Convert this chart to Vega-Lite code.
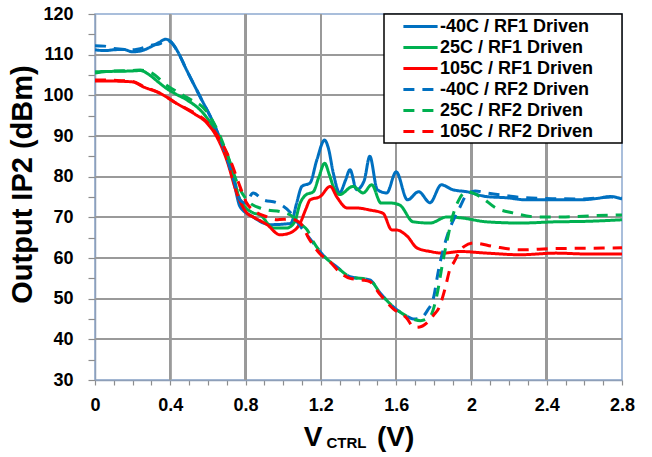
{
  "$schema": "https://vega.github.io/schema/vega-lite/v6.json",
  "width": 527,
  "height": 366,
  "autosize": {"type": "none"},
  "padding": {"left": 95, "top": 14, "right": 30, "bottom": 77},
  "background": "white",
  "config": {"view": {"stroke": "#8DA9CF", "strokeWidth": 1.5}, "font": "Liberation Sans", "legend": {"strokeWidth": 1.5}},
  "title": {"text": "CTRL", "orient": "bottom", "anchor": "middle", "dx": -12, "offset": -15, "fontSize": 15, "fontWeight": "bold", "font": "Liberation Sans", "color": "black", "baseline": "top"},
  "data": {"values": [
    {"s":"-40C / RF1 Driven","v":0,"ip2":111.2},{"s":"-40C / RF1 Driven","v":0.05,"ip2":111.0},{"s":"-40C / RF1 Driven","v":0.1,"ip2":111.2},{"s":"-40C / RF1 Driven","v":0.15,"ip2":111.3},{"s":"-40C / RF1 Driven","v":0.2,"ip2":110.7},{"s":"-40C / RF1 Driven","v":0.25,"ip2":111.0},{"s":"-40C / RF1 Driven","v":0.3,"ip2":112.0},{"s":"-40C / RF1 Driven","v":0.34,"ip2":113.0},{"s":"-40C / RF1 Driven","v":0.376,"ip2":113.8},{"s":"-40C / RF1 Driven","v":0.4,"ip2":113.3},{"s":"-40C / RF1 Driven","v":0.434,"ip2":111.2},{"s":"-40C / RF1 Driven","v":0.487,"ip2":106.2},{"s":"-40C / RF1 Driven","v":0.558,"ip2":99.7},{"s":"-40C / RF1 Driven","v":0.629,"ip2":93.2},{"s":"-40C / RF1 Driven","v":0.68,"ip2":87.3},{"s":"-40C / RF1 Driven","v":0.735,"ip2":79.2},{"s":"-40C / RF1 Driven","v":0.771,"ip2":72.6},{"s":"-40C / RF1 Driven","v":0.84,"ip2":70.1},{"s":"-40C / RF1 Driven","v":0.9,"ip2":68.5},{"s":"-40C / RF1 Driven","v":0.93,"ip2":68.2},{"s":"-40C / RF1 Driven","v":1.04,"ip2":68.5},{"s":"-40C / RF1 Driven","v":1.072,"ip2":73.6},{"s":"-40C / RF1 Driven","v":1.099,"ip2":77.6},{"s":"-40C / RF1 Driven","v":1.143,"ip2":78.5},{"s":"-40C / RF1 Driven","v":1.178,"ip2":84},{"s":"-40C / RF1 Driven","v":1.22,"ip2":89},{"s":"-40C / RF1 Driven","v":1.24,"ip2":87},{"s":"-40C / RF1 Driven","v":1.266,"ip2":80.9},{"s":"-40C / RF1 Driven","v":1.3,"ip2":76},{"s":"-40C / RF1 Driven","v":1.33,"ip2":79},{"s":"-40C / RF1 Driven","v":1.355,"ip2":81.7},{"s":"-40C / RF1 Driven","v":1.39,"ip2":76.8},{"s":"-40C / RF1 Driven","v":1.43,"ip2":79},{"s":"-40C / RF1 Driven","v":1.46,"ip2":85},{"s":"-40C / RF1 Driven","v":1.5,"ip2":76.8},{"s":"-40C / RF1 Driven","v":1.55,"ip2":76},{"s":"-40C / RF1 Driven","v":1.6,"ip2":81.2},{"s":"-40C / RF1 Driven","v":1.66,"ip2":74.3},{"s":"-40C / RF1 Driven","v":1.72,"ip2":76.3},{"s":"-40C / RF1 Driven","v":1.78,"ip2":73.6},{"s":"-40C / RF1 Driven","v":1.84,"ip2":78},{"s":"-40C / RF1 Driven","v":1.9,"ip2":76.8},{"s":"-40C / RF1 Driven","v":1.975,"ip2":76.3},{"s":"-40C / RF1 Driven","v":2.08,"ip2":75.1},{"s":"-40C / RF1 Driven","v":2.19,"ip2":74.8},{"s":"-40C / RF1 Driven","v":2.29,"ip2":74.3},{"s":"-40C / RF1 Driven","v":2.43,"ip2":74.3},{"s":"-40C / RF1 Driven","v":2.58,"ip2":74.3},{"s":"-40C / RF1 Driven","v":2.66,"ip2":74.6},{"s":"-40C / RF1 Driven","v":2.74,"ip2":75.1},{"s":"-40C / RF1 Driven","v":2.8,"ip2":74.5},
    {"s":"25C / RF1 Driven","v":0,"ip2":105.8},{"s":"25C / RF1 Driven","v":0.1,"ip2":105.9},{"s":"25C / RF1 Driven","v":0.2,"ip2":106.0},{"s":"25C / RF1 Driven","v":0.24,"ip2":106.1},{"s":"25C / RF1 Driven","v":0.29,"ip2":105.0},{"s":"25C / RF1 Driven","v":0.33,"ip2":103.5},{"s":"25C / RF1 Driven","v":0.38,"ip2":101.7},{"s":"25C / RF1 Driven","v":0.43,"ip2":100.3},{"s":"25C / RF1 Driven","v":0.487,"ip2":98.9},{"s":"25C / RF1 Driven","v":0.575,"ip2":95.6},{"s":"25C / RF1 Driven","v":0.647,"ip2":90.7},{"s":"25C / RF1 Driven","v":0.718,"ip2":83.3},{"s":"25C / RF1 Driven","v":0.771,"ip2":74.3},{"s":"25C / RF1 Driven","v":0.84,"ip2":71.1},{"s":"25C / RF1 Driven","v":0.877,"ip2":70.6},{"s":"25C / RF1 Driven","v":0.947,"ip2":67.4},{"s":"25C / RF1 Driven","v":1.02,"ip2":67.4},{"s":"25C / RF1 Driven","v":1.06,"ip2":68.8},{"s":"25C / RF1 Driven","v":1.09,"ip2":73.5},{"s":"25C / RF1 Driven","v":1.12,"ip2":75.5},{"s":"25C / RF1 Driven","v":1.16,"ip2":76.3},{"s":"25C / RF1 Driven","v":1.19,"ip2":80},{"s":"25C / RF1 Driven","v":1.22,"ip2":83.3},{"s":"25C / RF1 Driven","v":1.245,"ip2":80.5},{"s":"25C / RF1 Driven","v":1.266,"ip2":77.6},{"s":"25C / RF1 Driven","v":1.3,"ip2":75.6},{"s":"25C / RF1 Driven","v":1.37,"ip2":77.6},{"s":"25C / RF1 Driven","v":1.425,"ip2":76},{"s":"25C / RF1 Driven","v":1.47,"ip2":78},{"s":"25C / RF1 Driven","v":1.52,"ip2":73.5},{"s":"25C / RF1 Driven","v":1.575,"ip2":73.5},{"s":"25C / RF1 Driven","v":1.62,"ip2":73},{"s":"25C / RF1 Driven","v":1.69,"ip2":68.9},{"s":"25C / RF1 Driven","v":1.78,"ip2":68.6},{"s":"25C / RF1 Driven","v":1.87,"ip2":70.1},{"s":"25C / RF1 Driven","v":1.94,"ip2":69.9},{"s":"25C / RF1 Driven","v":2.08,"ip2":68.9},{"s":"25C / RF1 Driven","v":2.26,"ip2":68.6},{"s":"25C / RF1 Driven","v":2.45,"ip2":68.9},{"s":"25C / RF1 Driven","v":2.6,"ip2":69.0},{"s":"25C / RF1 Driven","v":2.8,"ip2":69.4},
    {"s":"105C / RF1 Driven","v":0,"ip2":103.5},{"s":"105C / RF1 Driven","v":0.1,"ip2":103.5},{"s":"105C / RF1 Driven","v":0.2,"ip2":103.3},{"s":"105C / RF1 Driven","v":0.256,"ip2":102.1},{"s":"105C / RF1 Driven","v":0.346,"ip2":100.5},{"s":"105C / RF1 Driven","v":0.434,"ip2":98},{"s":"105C / RF1 Driven","v":0.523,"ip2":95.6},{"s":"105C / RF1 Driven","v":0.594,"ip2":93.2},{"s":"105C / RF1 Driven","v":0.647,"ip2":89.8},{"s":"105C / RF1 Driven","v":0.7,"ip2":84.1},{"s":"105C / RF1 Driven","v":0.753,"ip2":76},{"s":"105C / RF1 Driven","v":0.806,"ip2":71.1},{"s":"105C / RF1 Driven","v":0.84,"ip2":70.1},{"s":"105C / RF1 Driven","v":0.914,"ip2":68.2},{"s":"105C / RF1 Driven","v":0.983,"ip2":65.7},{"s":"105C / RF1 Driven","v":1.037,"ip2":66.2},{"s":"105C / RF1 Driven","v":1.09,"ip2":68.6},{"s":"105C / RF1 Driven","v":1.12,"ip2":72},{"s":"105C / RF1 Driven","v":1.143,"ip2":74.3},{"s":"105C / RF1 Driven","v":1.196,"ip2":75.1},{"s":"105C / RF1 Driven","v":1.25,"ip2":77.6},{"s":"105C / RF1 Driven","v":1.285,"ip2":75},{"s":"105C / RF1 Driven","v":1.34,"ip2":72.3},{"s":"105C / RF1 Driven","v":1.39,"ip2":72.3},{"s":"105C / RF1 Driven","v":1.46,"ip2":71.8},{"s":"105C / RF1 Driven","v":1.53,"ip2":71},{"s":"105C / RF1 Driven","v":1.577,"ip2":66.9},{"s":"105C / RF1 Driven","v":1.6,"ip2":66.9},{"s":"105C / RF1 Driven","v":1.66,"ip2":65.3},{"s":"105C / RF1 Driven","v":1.71,"ip2":62.5},{"s":"105C / RF1 Driven","v":1.78,"ip2":61.6},{"s":"105C / RF1 Driven","v":1.85,"ip2":61.2},{"s":"105C / RF1 Driven","v":1.94,"ip2":61.6},{"s":"105C / RF1 Driven","v":2.08,"ip2":61.2},{"s":"105C / RF1 Driven","v":2.26,"ip2":60.8},{"s":"105C / RF1 Driven","v":2.45,"ip2":61.2},{"s":"105C / RF1 Driven","v":2.6,"ip2":61},{"s":"105C / RF1 Driven","v":2.8,"ip2":61},
    {"s":"-40C / RF2 Driven","v":0,"ip2":112.2},{"s":"-40C / RF2 Driven","v":0.05,"ip2":112.1},{"s":"-40C / RF2 Driven","v":0.1,"ip2":111.5},{"s":"-40C / RF2 Driven","v":0.2,"ip2":111.2},{"s":"-40C / RF2 Driven","v":0.3,"ip2":112.3},{"s":"-40C / RF2 Driven","v":0.35,"ip2":112.8},{"s":"-40C / RF2 Driven","v":0.376,"ip2":113.5},{"s":"-40C / RF2 Driven","v":0.4,"ip2":113.2},{"s":"-40C / RF2 Driven","v":0.434,"ip2":111.2},{"s":"-40C / RF2 Driven","v":0.487,"ip2":106.2},{"s":"-40C / RF2 Driven","v":0.558,"ip2":99.7},{"s":"-40C / RF2 Driven","v":0.629,"ip2":93.2},{"s":"-40C / RF2 Driven","v":0.68,"ip2":87.5},{"s":"-40C / RF2 Driven","v":0.735,"ip2":79.5},{"s":"-40C / RF2 Driven","v":0.771,"ip2":74.3},{"s":"-40C / RF2 Driven","v":0.8,"ip2":73.5},{"s":"-40C / RF2 Driven","v":0.84,"ip2":76},{"s":"-40C / RF2 Driven","v":0.894,"ip2":74.3},{"s":"-40C / RF2 Driven","v":0.966,"ip2":73.6},{"s":"-40C / RF2 Driven","v":1.04,"ip2":71.1},{"s":"-40C / RF2 Driven","v":1.08,"ip2":68.5},{"s":"-40C / RF2 Driven","v":1.106,"ip2":66.9},{"s":"-40C / RF2 Driven","v":1.16,"ip2":63.7},{"s":"-40C / RF2 Driven","v":1.21,"ip2":60.8},{"s":"-40C / RF2 Driven","v":1.285,"ip2":57.8},{"s":"-40C / RF2 Driven","v":1.355,"ip2":55.4},{"s":"-40C / RF2 Driven","v":1.46,"ip2":54.6},{"s":"-40C / RF2 Driven","v":1.515,"ip2":51.4},{"s":"-40C / RF2 Driven","v":1.585,"ip2":48},{"s":"-40C / RF2 Driven","v":1.66,"ip2":45.6},{"s":"-40C / RF2 Driven","v":1.69,"ip2":45},{"s":"-40C / RF2 Driven","v":1.73,"ip2":45.2},{"s":"-40C / RF2 Driven","v":1.765,"ip2":47},{"s":"-40C / RF2 Driven","v":1.8,"ip2":50.5},{"s":"-40C / RF2 Driven","v":1.825,"ip2":57},{"s":"-40C / RF2 Driven","v":1.85,"ip2":62},{"s":"-40C / RF2 Driven","v":1.875,"ip2":66},{"s":"-40C / RF2 Driven","v":1.905,"ip2":69.4},{"s":"-40C / RF2 Driven","v":1.94,"ip2":72.6},{"s":"-40C / RF2 Driven","v":1.975,"ip2":75.6},{"s":"-40C / RF2 Driven","v":2.02,"ip2":76.5},{"s":"-40C / RF2 Driven","v":2.08,"ip2":76},{"s":"-40C / RF2 Driven","v":2.19,"ip2":75.3},{"s":"-40C / RF2 Driven","v":2.29,"ip2":74.8},{"s":"-40C / RF2 Driven","v":2.43,"ip2":74.6},{"s":"-40C / RF2 Driven","v":2.58,"ip2":74.5},{"s":"-40C / RF2 Driven","v":2.74,"ip2":75},{"s":"-40C / RF2 Driven","v":2.8,"ip2":74.7},
    {"s":"25C / RF2 Driven","v":0,"ip2":105.5},{"s":"25C / RF2 Driven","v":0.1,"ip2":106.0},{"s":"25C / RF2 Driven","v":0.2,"ip2":106.1},{"s":"25C / RF2 Driven","v":0.24,"ip2":106.2},{"s":"25C / RF2 Driven","v":0.3,"ip2":105.5},{"s":"25C / RF2 Driven","v":0.38,"ip2":102.5},{"s":"25C / RF2 Driven","v":0.487,"ip2":99.5},{"s":"25C / RF2 Driven","v":0.594,"ip2":96},{"s":"25C / RF2 Driven","v":0.65,"ip2":91.5},{"s":"25C / RF2 Driven","v":0.7,"ip2":85.8},{"s":"25C / RF2 Driven","v":0.771,"ip2":76.8},{"s":"25C / RF2 Driven","v":0.824,"ip2":73.5},{"s":"25C / RF2 Driven","v":0.877,"ip2":72.3},{"s":"25C / RF2 Driven","v":0.914,"ip2":71.8},{"s":"25C / RF2 Driven","v":0.983,"ip2":71.4},{"s":"25C / RF2 Driven","v":1.053,"ip2":70.1},{"s":"25C / RF2 Driven","v":1.09,"ip2":68.5},{"s":"25C / RF2 Driven","v":1.127,"ip2":66.9},{"s":"25C / RF2 Driven","v":1.16,"ip2":64},{"s":"25C / RF2 Driven","v":1.21,"ip2":60.8},{"s":"25C / RF2 Driven","v":1.285,"ip2":57.8},{"s":"25C / RF2 Driven","v":1.355,"ip2":55.4},{"s":"25C / RF2 Driven","v":1.46,"ip2":54.6},{"s":"25C / RF2 Driven","v":1.515,"ip2":51.4},{"s":"25C / RF2 Driven","v":1.585,"ip2":48},{"s":"25C / RF2 Driven","v":1.66,"ip2":45.6},{"s":"25C / RF2 Driven","v":1.7,"ip2":44.8},{"s":"25C / RF2 Driven","v":1.73,"ip2":44.6},{"s":"25C / RF2 Driven","v":1.78,"ip2":45.6},{"s":"25C / RF2 Driven","v":1.815,"ip2":50.5},{"s":"25C / RF2 Driven","v":1.85,"ip2":59.6},{"s":"25C / RF2 Driven","v":1.875,"ip2":65.2},{"s":"25C / RF2 Driven","v":1.895,"ip2":69.4},{"s":"25C / RF2 Driven","v":1.93,"ip2":74},{"s":"25C / RF2 Driven","v":1.975,"ip2":76.3},{"s":"25C / RF2 Driven","v":2.05,"ip2":75},{"s":"25C / RF2 Driven","v":2.13,"ip2":72.3},{"s":"25C / RF2 Driven","v":2.22,"ip2":71.1},{"s":"25C / RF2 Driven","v":2.35,"ip2":70.1},{"s":"25C / RF2 Driven","v":2.5,"ip2":70.1},{"s":"25C / RF2 Driven","v":2.65,"ip2":70.4},{"s":"25C / RF2 Driven","v":2.8,"ip2":70.6},
    {"s":"105C / RF2 Driven","v":0,"ip2":103.8},{"s":"105C / RF2 Driven","v":0.1,"ip2":103.7},{"s":"105C / RF2 Driven","v":0.2,"ip2":103.4},{"s":"105C / RF2 Driven","v":0.256,"ip2":102.2},{"s":"105C / RF2 Driven","v":0.346,"ip2":100.5},{"s":"105C / RF2 Driven","v":0.434,"ip2":98},{"s":"105C / RF2 Driven","v":0.523,"ip2":95.8},{"s":"105C / RF2 Driven","v":0.594,"ip2":93.5},{"s":"105C / RF2 Driven","v":0.665,"ip2":89},{"s":"105C / RF2 Driven","v":0.718,"ip2":84.1},{"s":"105C / RF2 Driven","v":0.771,"ip2":77.5},{"s":"105C / RF2 Driven","v":0.806,"ip2":73.5},{"s":"105C / RF2 Driven","v":0.84,"ip2":71.8},{"s":"105C / RF2 Driven","v":0.914,"ip2":70.1},{"s":"105C / RF2 Driven","v":0.968,"ip2":69.4},{"s":"105C / RF2 Driven","v":1.037,"ip2":69.6},{"s":"105C / RF2 Driven","v":1.09,"ip2":68.6},{"s":"105C / RF2 Driven","v":1.14,"ip2":64.5},{"s":"105C / RF2 Driven","v":1.196,"ip2":61},{"s":"105C / RF2 Driven","v":1.25,"ip2":59},{"s":"105C / RF2 Driven","v":1.3,"ip2":56.5},{"s":"105C / RF2 Driven","v":1.355,"ip2":55},{"s":"105C / RF2 Driven","v":1.42,"ip2":54.6},{"s":"105C / RF2 Driven","v":1.46,"ip2":54.2},{"s":"105C / RF2 Driven","v":1.515,"ip2":51},{"s":"105C / RF2 Driven","v":1.585,"ip2":47.5},{"s":"105C / RF2 Driven","v":1.66,"ip2":45},{"s":"105C / RF2 Driven","v":1.69,"ip2":43.1},{"s":"105C / RF2 Driven","v":1.72,"ip2":43},{"s":"105C / RF2 Driven","v":1.765,"ip2":44.1},{"s":"105C / RF2 Driven","v":1.8,"ip2":46},{"s":"105C / RF2 Driven","v":1.83,"ip2":48},{"s":"105C / RF2 Driven","v":1.86,"ip2":52.5},{"s":"105C / RF2 Driven","v":1.89,"ip2":57.8},{"s":"105C / RF2 Driven","v":1.905,"ip2":58.8},{"s":"105C / RF2 Driven","v":1.93,"ip2":61},{"s":"105C / RF2 Driven","v":1.96,"ip2":62.8},{"s":"105C / RF2 Driven","v":2.01,"ip2":63.7},{"s":"105C / RF2 Driven","v":2.12,"ip2":62.8},{"s":"105C / RF2 Driven","v":2.26,"ip2":62},{"s":"105C / RF2 Driven","v":2.43,"ip2":62.3},{"s":"105C / RF2 Driven","v":2.6,"ip2":62.4},{"s":"105C / RF2 Driven","v":2.8,"ip2":62.5}
  ]},
  "layer": [
    {"mark": {"type": "rule", "color": "#9A9A9A", "strokeWidth": 1.5}, "encoding": {"x": {"datum": 0.4, "type": "quantitative", "axis": null}}},
    {"mark": {"type": "rule", "color": "#9A9A9A", "strokeWidth": 1.5}, "encoding": {"x": {"datum": 0.8, "type": "quantitative", "axis": null}}},
    {"mark": {"type": "rule", "color": "#9A9A9A", "strokeWidth": 1.5}, "encoding": {"x": {"datum": 1.2, "type": "quantitative", "axis": null}}},
    {"mark": {"type": "rule", "color": "#9A9A9A", "strokeWidth": 1.5}, "encoding": {"x": {"datum": 1.6, "type": "quantitative", "axis": null}}},
    {"mark": {"type": "rule", "color": "#9A9A9A", "strokeWidth": 1.5}, "encoding": {"x": {"datum": 2.0, "type": "quantitative", "axis": null}}},
    {"mark": {"type": "rule", "color": "#9A9A9A", "strokeWidth": 1.5}, "encoding": {"x": {"datum": 2.4, "type": "quantitative", "axis": null}}},
    {"mark": {"type": "rule", "color": "#9A9A9A", "strokeWidth": 1.5}, "encoding": {"y": {"datum": 40, "type": "quantitative", "axis": null}}},
    {"mark": {"type": "rule", "color": "#9A9A9A", "strokeWidth": 1.5}, "encoding": {"y": {"datum": 50, "type": "quantitative", "axis": null}}},
    {"mark": {"type": "rule", "color": "#9A9A9A", "strokeWidth": 1.5}, "encoding": {"y": {"datum": 60, "type": "quantitative", "axis": null}}},
    {"mark": {"type": "rule", "color": "#9A9A9A", "strokeWidth": 1.5}, "encoding": {"y": {"datum": 70, "type": "quantitative", "axis": null}}},
    {"mark": {"type": "rule", "color": "#9A9A9A", "strokeWidth": 1.5}, "encoding": {"y": {"datum": 80, "type": "quantitative", "axis": null}}},
    {"mark": {"type": "rule", "color": "#9A9A9A", "strokeWidth": 1.5}, "encoding": {"y": {"datum": 90, "type": "quantitative", "axis": null}}},
    {"mark": {"type": "rule", "color": "#9A9A9A", "strokeWidth": 1.5}, "encoding": {"y": {"datum": 100, "type": "quantitative", "axis": null}}},
    {"mark": {"type": "rule", "color": "#9A9A9A", "strokeWidth": 1.5}, "encoding": {"y": {"datum": 110, "type": "quantitative", "axis": null}}},
    {
      "mark": {"type": "line", "strokeWidth": 3, "interpolate": "monotone", "clip": true},
      "encoding": {
        "x": {
          "field": "v", "type": "quantitative",
          "scale": {"domain": [0, 2.8], "nice": false, "zero": false},
          "axis": {
            "orient": "bottom",
            "values": [0,0.1,0.2,0.3,0.4,0.5,0.6,0.7,0.8,0.9,1,1.1,1.2,1.3,1.4,1.5,1.6,1.7,1.8,1.9,2,2.1,2.2,2.3,2.4,2.5,2.6,2.7,2.8],
            "labelExpr": "round(datum.value*10) % 4 == 0 ? format(datum.value, '~g') : ''",
            "labelOverlap": false, "labelFlush": false,
            "labelFontSize": 18, "labelFontWeight": "bold", "labelColor": "black", "labelPadding": 11,
            "tickSize": 5, "tickColor": "#8C8C8C", "tickWidth": 1.2,
            "domainColor": "#8E9FB8", "domainWidth": 1.5,
            "grid": false,
            "title": "V\u00a0\u00a0\u00a0\u00a0\u00a0\u00a0\u00a0(V)",
            "titleFontSize": 28, "titleFontWeight": "bold", "titleColor": "black", "titlePadding": 9
          }
        },
        "y": {
          "field": "ip2", "type": "quantitative",
          "scale": {"domain": [30, 120], "nice": false, "zero": false},
          "axis": {
            "orient": "left",
            "values": [30,35,40,45,50,55,60,65,70,75,80,85,90,95,100,105,110,115,120],
            "labelExpr": "datum.value % 10 == 0 ? datum.label : ''",
            "labelOverlap": false, "labelFlush": false,
            "labelFontSize": 18, "labelFontWeight": "bold", "labelColor": "black", "labelPadding": 15,
            "tickSize": 7, "tickColor": "#8C8C8C", "tickWidth": 1.2,
            "domainColor": "#8E9FB8", "domainWidth": 1.5,
            "grid": false,
            "title": "Output IP2 (dBm)",
            "titleFontSize": 29, "titleFontWeight": "bold", "titleColor": "black", "titlePadding": 5, "titleY": 170
          }
        },
        "color": {
          "field": "s", "type": "nominal",
          "scale": {
            "domain": ["-40C / RF1 Driven","25C / RF1 Driven","105C / RF1 Driven","-40C / RF2 Driven","25C / RF2 Driven","105C / RF2 Driven"],
            "range": ["#0070C0","#00B050","#FF0000","#0070C0","#00B050","#FF0000"]
          },
          "legend": {
            "title": null, "orient": "top-right", "offset": 0, "padding": 2,
            "strokeColor": "black", "fillColor": "white",
            "symbolType": "M-1.9,0H1.9", "symbolSize": 324, "symbolStrokeWidth": 3, "symbolOffset": 24,
            "labelFontSize": 18, "labelFont": "Liberation Sans", "labelFontWeight": "bold", "labelColor": "black",
            "labelOffset": 9, "rowPadding": 1, "labelLimit": 400,
            "labelExpr": "datum.label + '\u2800\u2800'"
          }
        },
        "strokeDash": {
          "field": "s", "type": "nominal",
          "scale": {
            "domain": ["-40C / RF1 Driven","25C / RF1 Driven","105C / RF1 Driven","-40C / RF2 Driven","25C / RF2 Driven","105C / RF2 Driven"],
            "range": [[1,0],[1,0],[1,0],[11,8],[11,8],[11,8]]
          }
        }
      }
    }
  ],
  "resolve": {"axis": {"x": "independent", "y": "independent"}}
}
